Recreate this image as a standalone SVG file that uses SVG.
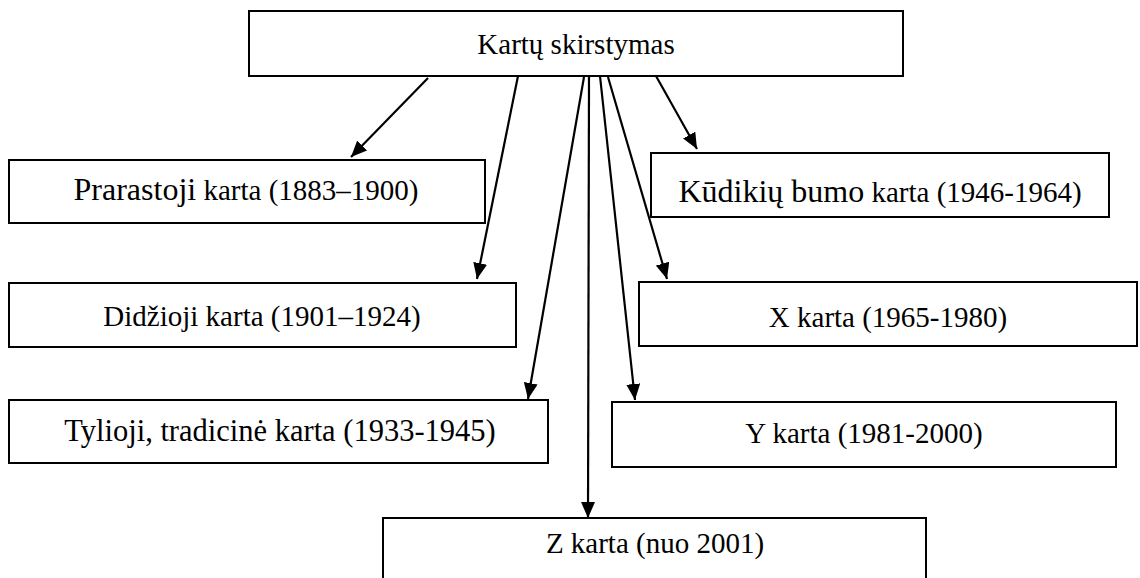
<svg xmlns="http://www.w3.org/2000/svg" width="1140" height="578" viewBox="0 0 1140 578">
<style>
.box{fill:#fff;stroke:#000;stroke-width:2}
.t{font-family:"Liberation Serif","Times New Roman",serif;font-size:29px;fill:#000;text-anchor:middle}
.big{font-size:32px}
.c{stroke:#000;stroke-width:2.2;fill:none;marker-end:url(#ah)}
</style>
<defs>
<marker id="ah" viewBox="0 0 16 14" refX="16" refY="7" markerWidth="16" markerHeight="14" markerUnits="userSpaceOnUse" orient="auto">
<path d="M0,0 L16,7 L0,14 z" fill="#000"/>
</marker>
</defs>
<rect width="1140" height="578" fill="#fff"/>
<g id="connectors">
<line class="c" x1="428" y1="78" x2="351" y2="157"/>
<line class="c" x1="518" y1="76" x2="477" y2="279"/>
<line class="c" x1="584" y1="77" x2="528" y2="399"/>
<line class="c" x1="589" y1="77" x2="588" y2="518"/>
<line class="c" x1="600" y1="76" x2="635" y2="400"/>
<line class="c" x1="608" y1="77" x2="667" y2="279"/>
<line class="c" x1="656" y1="76" x2="697" y2="149"/>
</g>
<g id="n-top">
<rect class="box" x="249" y="11" width="654" height="65"/>
<text class="t" x="576" y="54">Kartų skirstymas</text>
</g>
<g id="n-prarastoji">
<rect class="box" x="9" y="160" width="476" height="63"/>
<text class="t" x="246" y="200"><tspan class="big">Prarastoji</tspan> karta (1883–1900)</text>
</g>
<g id="n-kudikiu">
<rect class="box" x="651" y="153" width="458" height="64"/>
<text class="t" x="880" y="202"><tspan class="big">Kūdikių bumo</tspan> karta (1946-1964)</text>
</g>
<g id="n-didzioji">
<rect class="box" x="9" y="283" width="507" height="64"/>
<text class="t" x="262" y="326">Didžioji karta (1901–1924)</text>
</g>
<g id="n-x">
<rect class="box" x="639" y="282" width="498" height="64"/>
<text class="t" x="888" y="327">X karta (1965-1980)</text>
</g>
<g id="n-tylioji">
<rect class="box" x="9" y="400" width="539" height="63"/>
<text class="t" x="280" y="441" style="font-size:30.5px">Tylioji, tradicinė karta (1933-1945)</text>
</g>
<g id="n-y">
<rect class="box" x="612" y="402" width="504" height="65"/>
<text class="t" x="864" y="443">Y karta (1981-2000)</text>
</g>
<g id="n-z">
<rect class="box" x="383" y="518" width="543" height="90"/>
<text class="t" x="655" y="553">Z karta (nuo 2001)</text>
</g>
</svg>
